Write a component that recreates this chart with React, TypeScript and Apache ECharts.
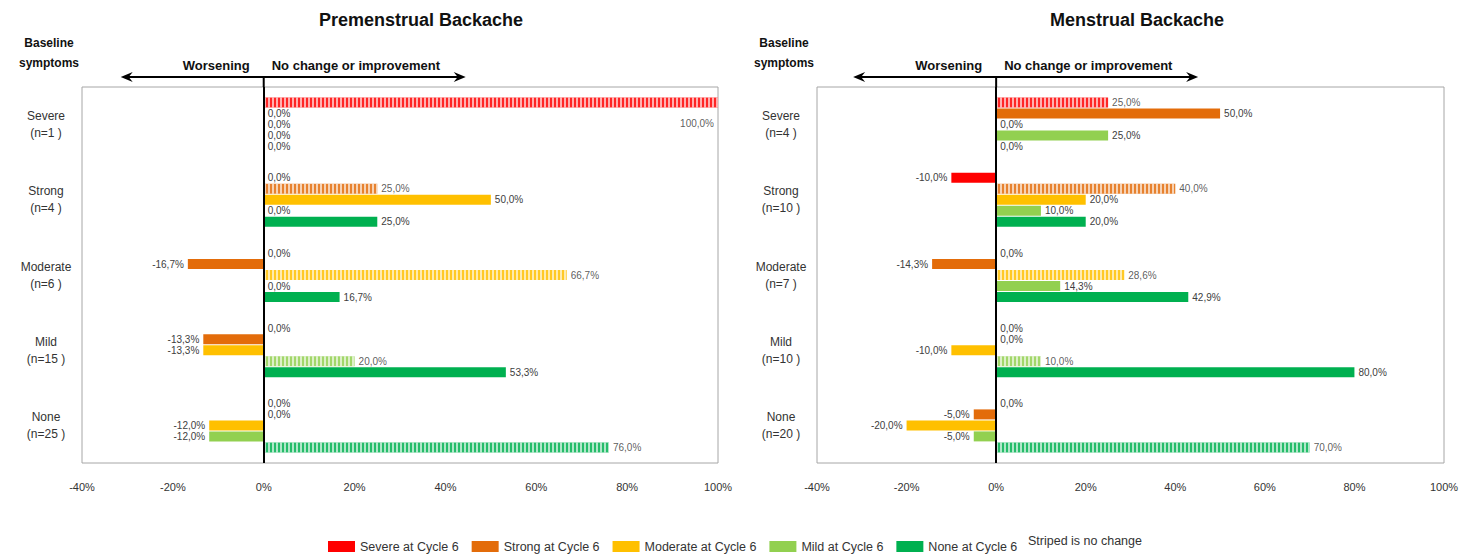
import { useEffect, useRef } from 'react';
import * as echarts from 'echarts';

const categoriesPre = ['Severe\n(n=1 )', 'Strong\n(n=4 )', 'Moderate\n(n=6 )', 'Mild\n(n=15 )', 'None\n(n=25 )'];
const categoriesMen = ['Severe\n(n=4 )', 'Strong\n(n=10 )', 'Moderate\n(n=7 )', 'Mild\n(n=10 )', 'None\n(n=20 )'];
const seriesNames = ['Severe at Cycle 6', 'Strong at Cycle 6', 'Moderate at Cycle 6', 'Mild at Cycle 6', 'None at Cycle 6'];
const seriesColors = ['#ff0000', '#e36c0a', '#ffc000', '#92d050', '#00b050'];

// Premenstrual backache (values per baseline category: Severe, Strong, Moderate, Mild, None)
const preSevere = [100, 0, 0, 0, 0];
const preStrong = [0, 25, -16.7, -13.3, 0];
const preModerate = [0, 50, 66.7, -13.3, -12.0];
const preMild = [0, 0, 0, 20.0, -12.0];
const preNone = [0, 25, 16.7, 53.3, 76.0];

// Menstrual backache
const menSevere = [25, -10, 0, 0, 0];
const menStrong = [50, 40, -14.3, 0, -5];
const menModerate = [0, 20, 28.6, -10, -20];
const menMild = [25, 10, 14.3, 10, -5];
const menNone = [0, 20, 42.9, 80, 70];

const xTicksMin = -40;
const xTicksMax = 100;
const xTickStep = 20;

const titles = ['Premenstrual Backache', 'Menstrual Backache'];

const FONT = "'Liberation Sans', Arial, sans-serif";

const grids = [
  { left: 82, top: 87, width: 636, height: 376 },
  { left: 817, top: 87, width: 627, height: 376 },
];
const titleCenters = [421, 1137];

const fmt = (v: number) => v.toFixed(1).replace('.', ',') + '%';

export default function App() {
  const ref = useRef<HTMLDivElement>(null);
  useEffect(() => {
    document.body.style.margin = '0';
    if (!ref.current) return;
    const chart = echarts.init(ref.current, undefined, { renderer: 'svg' });
    const preData = [preSevere, preStrong, preModerate, preMild, preNone];
    const menData = [menSevere, menStrong, menModerate, menMild, menNone];

    const makeSeries = (data: number[][], gi: number) =>
      data.map((vals, si) => ({
        name: seriesNames[si],
        type: 'bar',
        xAxisIndex: gi,
        yAxisIndex: gi,
        barWidth: 10,
        barGap: '10%',
        itemStyle: { color: seriesColors[si] },
        label: {
          show: true,
          fontFamily: FONT,
          fontSize: 10,
          color: '#404040',
          distance: 4,
          formatter: (p: any) => fmt(p.value),
        },
        markLine:
          si === 0
            ? {
                silent: true,
                symbol: 'none',
                label: { show: false },
                lineStyle: { color: '#000', width: 2, type: 'solid' },
                data: [{ xAxis: 0 }],
              }
            : undefined,
        data: vals.map((v, ci) => {
          const item: any = {
            value: v,
            label: { position: v < 0 ? 'left' : 'right' },
          };
          if (ci === si) {
            item.itemStyle = {
              color: seriesColors[si],
              opacity: 0.85,
              decal: {
                symbol: 'rect',
                symbolSize: 1,
                dashArrayX: [2, 2],
                dashArrayY: [4, 0],
                rotation: 0,
                color: 'rgba(255,255,255,0.75)',
              },
            };
          }
          if (v >= 100) {
            item.label = { position: 'insideRight', offset: [0, 21] };
          }
          return item;
        }),
      }));

    const xAxis = grids.map((_, gi) => ({
      type: 'value',
      gridIndex: gi,
      min: xTicksMin,
      max: xTicksMax,
      interval: xTickStep,
      axisLine: { show: false },
      axisTick: { show: false },
      splitLine: { show: false },
      axisLabel: {
        formatter: '{value}%',
        fontFamily: FONT,
        fontSize: 11,
        color: '#333',
        margin: 18,
      },
    }));

    const yAxis = [categoriesPre, categoriesMen].map((cats, gi) => ({
      type: 'category',
      gridIndex: gi,
      data: cats,
      inverse: true,
      axisLine: { show: false, onZero: false },
      axisTick: { show: false },
      splitLine: { show: false },
      axisLabel: {
        fontFamily: FONT,
        fontSize: 12,
        color: '#333',
        lineHeight: 17,
        align: 'center',
        margin: 36,
      },
    }));

    chart.setOption({
      animation: false,
      backgroundColor: '#fff',
      textStyle: { fontFamily: FONT },
      grid: grids.map((g) => ({ ...g, show: true, borderColor: '#a6a6a6', borderWidth: 1, containLabel: false })),
      xAxis,
      yAxis,
      legend: {
        data: seriesNames,
        left: 323,
        top: 535,
        icon: 'rect',
        itemWidth: 27,
        itemHeight: 11,
        itemGap: 13,
        textStyle: { fontFamily: FONT, fontSize: 12.5, color: '#333' },
        selectedMode: false,
      },
      series: [...makeSeries(preData, 0), ...makeSeries(menData, 1)],
    });

    const graphics: any[] = [];
    grids.forEach((g, gi) => {
      const zero = chart.convertToPixel({ xAxisIndex: gi }, 0) as number;
      const y = 77;
      const x1 = zero - 143;
      const x2 = zero + 202;
      graphics.push(
        {
          type: 'text',
          x: titleCenters[gi],
          y: 20,
          style: {
            text: titles[gi],
            font: `bold 18px ${FONT}`,
            fill: '#111',
            textAlign: 'center',
            textVerticalAlign: 'middle',
          },
        },
        {
          type: 'text',
          x: g.left - 33,
          y: 53,
          style: {
            text: 'Baseline\nsymptoms',
            font: `bold 12px ${FONT}`,
            lineHeight: 20,
            fill: '#111',
            textAlign: 'center',
            textVerticalAlign: 'middle',
          },
        },
        {
          type: 'text',
          x: zero - 14,
          y: 65,
          style: {
            text: 'Worsening',
            font: `bold 13px ${FONT}`,
            fill: '#111',
            textAlign: 'right',
            textVerticalAlign: 'middle',
          },
        },
        {
          type: 'text',
          x: zero + 8,
          y: 65,
          style: {
            text: 'No change or improvement',
            font: `bold 13px ${FONT}`,
            fill: '#111',
            textAlign: 'left',
            textVerticalAlign: 'middle',
          },
        },
        {
          type: 'line',
          shape: { x1: x1 + 4, y1: y, x2: x2 - 4, y2: y },
          style: { stroke: '#000', lineWidth: 2 },
        },
        {
          type: 'polygon',
          shape: { points: [[x1, y], [x1 + 12, y - 5], [x1 + 8, y], [x1 + 12, y + 5]] },
          style: { fill: '#000' },
        },
        {
          type: 'polygon',
          shape: { points: [[x2, y], [x2 - 12, y - 5], [x2 - 8, y], [x2 - 12, y + 5]] },
          style: { fill: '#000' },
        },
        {
          type: 'line',
          shape: { x1: zero, y1: y, x2: zero, y2: g.top },
          style: { stroke: '#000', lineWidth: 2 },
        }
      );
    });
    graphics.push({
      type: 'text',
      x: 1028,
      y: 541,
      style: {
        text: 'Striped is no change',
        font: `12.5px ${FONT}`,
        fill: '#333',
        textAlign: 'left',
        textVerticalAlign: 'middle',
      },
    });
    chart.setOption({ graphic: graphics });

    return () => chart.dispose();
  }, []);
  return <div ref={ref} style={{ width: 1469, height: 554 }} />;
}
